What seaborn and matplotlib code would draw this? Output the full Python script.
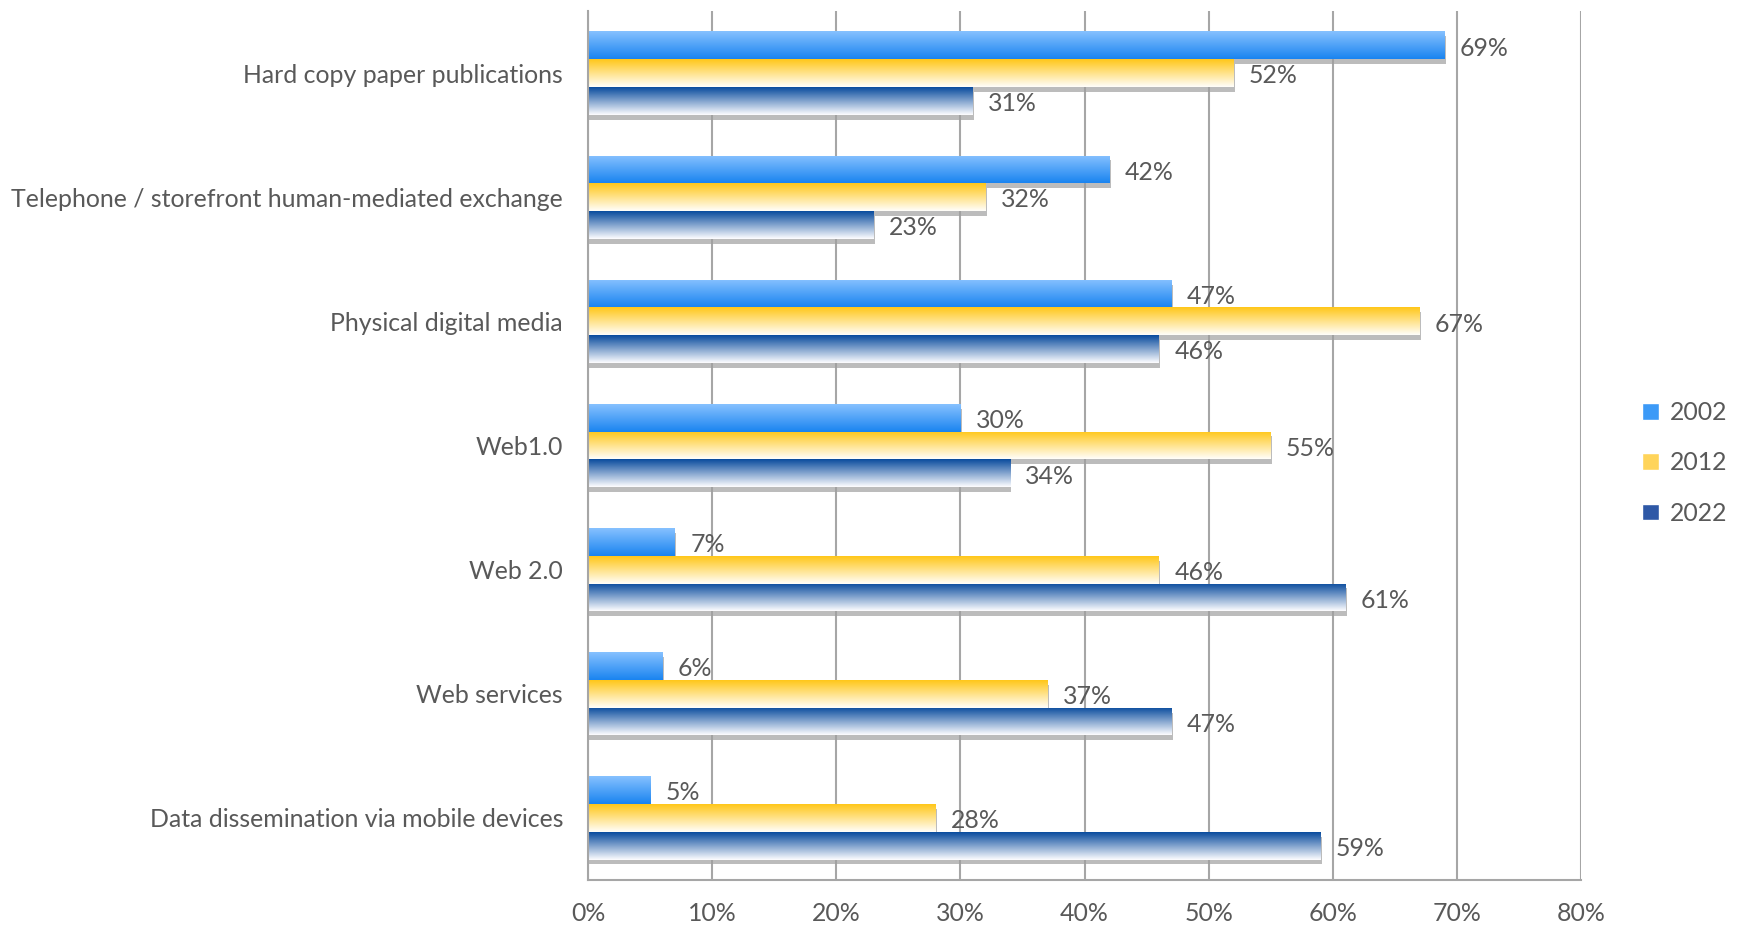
import numpy as np
import pandas as pd
import matplotlib
matplotlib.use('Agg')
import matplotlib.pyplot as plt
import matplotlib.patheffects as pe
from matplotlib.patches import Patch
from matplotlib.colors import LinearSegmentedColormap
import seaborn as sns

# data
categories = ['Hard copy paper publications',
              'Telephone / storefront human-mediated exchange',
              'Physical digital media',
              'Web1.0',
              'Web 2.0',
              'Web services',
              'Data dissemination via mobile devices']
years = ['2002', '2012', '2022']
pct_2002 = [69, 42, 47, 30, 7, 6, 5]
pct_2012 = [52, 32, 67, 55, 46, 37, 28]
pct_2022 = [31, 23, 46, 34, 61, 47, 59]
x_ticks = [0, 10, 20, 30, 40, 50, 60, 70, 80]

# gradient (top, bottom) per series, plus a flat colour for the legend
grad = {'2002': ('#86C1FF', '#1A84F0'),
        '2012': ('#FFC71A', '#FFFEFA'),
        '2022': ('#0A4C9E', '#FDFDFF')}
flat = {'2002': '#3C9AF7', '2012': '#FFD45A', '2022': '#2E58A6'}

df = pd.DataFrame({'category': categories * 3,
                   'year': np.repeat(years, len(categories)),
                   'value': pct_2002 + pct_2012 + pct_2022})

sns.set_style('white')
plt.rcParams['font.family'] = ['Lato', 'DejaVu Sans']
txt_col = '#595959'
fs = 17.9

fig = plt.figure(figsize=(17.41, 9.26), dpi=100)
ax = fig.add_axes([588 / 1741, 46 / 926, (1581 - 588) / 1741, (880 - 11) / 926])

sns.barplot(df, x='value', y='category', hue='year', hue_order=years,
            palette=flat, orient='h', width=0.67, legend=False, ax=ax,
            linewidth=0)

shadow = [pe.SimplePatchShadow(offset=(1, -3.5), shadow_rgbFace='#a0a0a0', alpha=0.7), pe.Normal()]
for yr, cont in zip(years, ax.containers):
    cmap = LinearSegmentedColormap.from_list(yr, [grad[yr][0], grad[yr][1]])
    g = np.linspace(0, 1, 64).reshape(-1, 1)
    for bar in cont:
        bar.set_path_effects(shadow)
        x0, y0 = bar.get_x(), bar.get_y()
        w, h = bar.get_width(), bar.get_height()
        im = ax.imshow(g, cmap=cmap, aspect='auto', origin='upper',
                       extent=[x0, x0 + w, y0 + h, y0], zorder=bar.get_zorder() + 0.1,
                       interpolation='bilinear')
        im.set_clip_path(bar)
        # value label, a touch below the bar centre like the original
        ax.annotate(f'{int(w)}%', (x0 + w, y0 + h / 2), xytext=(11, -2),
                    textcoords='offset points', va='center', ha='left',
                    fontsize=fs, color=txt_col)

ax.set_xlim(0, 80)
ax.set_ylim(6.5, -0.5)
ax.set_xticks(x_ticks)
ax.set_xticklabels([f'{t}%' for t in x_ticks])
ax.grid(axis='x', color='#a6a6a6', linewidth=1.5)
ax.set_axisbelow(True)
ax.set_xlabel('')
ax.set_ylabel('')
ax.tick_params(axis='y', length=0, pad=18, labelsize=fs, labelcolor=txt_col)
ax.tick_params(axis='x', length=0, pad=16, labelsize=fs, labelcolor=txt_col)
for side in ['top', 'right']:
    ax.spines[side].set_visible(False)
for side in ['left', 'bottom']:
    ax.spines[side].set_color('#a6a6a6')
    ax.spines[side].set_linewidth(1.5)

handles = [Patch(facecolor=flat[y], label=y) for y in years]
fig.legend(handles=handles, loc='center left', bbox_to_anchor=(1620 / 1741, 1 - 463 / 926),
           frameon=False, fontsize=fs, labelcolor=txt_col, handlelength=0.65,
           handleheight=0.65, handletextpad=0.45, labelspacing=1.1)

plt.savefig('out.png', dpi=100)
